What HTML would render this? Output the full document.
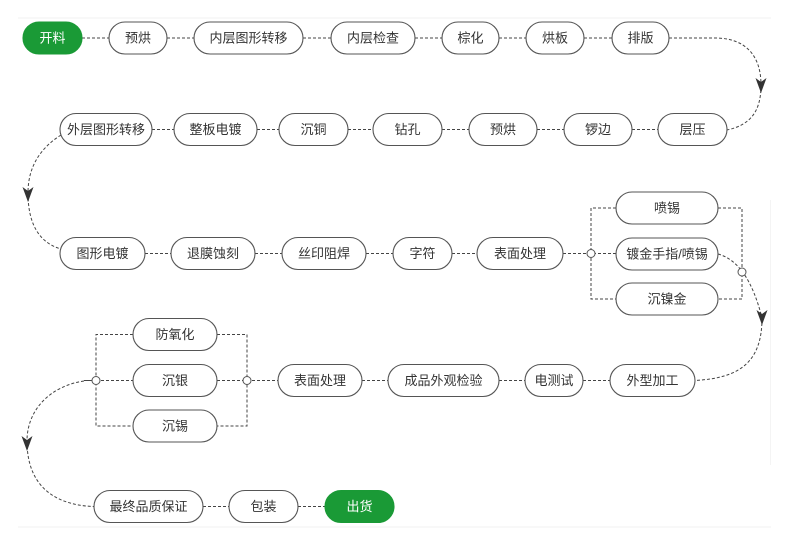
<!DOCTYPE html>
<html>
<head>
<meta charset="utf-8">
<style>
  html,body{margin:0;padding:0;background:#fff;}
  svg{display:block;}
  text{font-family:"Liberation Sans","Noto Sans CJK SC",sans-serif;font-size:13px;fill:#333;text-anchor:middle;dominant-baseline:central;}
  .n{fill:#fff;stroke:#555;stroke-width:1.1;}
  .g{fill:#1a9a36;stroke:#1a9a36;}
  .gt{fill:#fff;}
  .d{fill:none;stroke:#444;stroke-width:1;stroke-dasharray:3,2;}
  .c{fill:#fff;stroke:#555;stroke-width:1;}
</style>
</head>
<body>
<svg width="790" height="546" viewBox="0 0 790 546" xmlns="http://www.w3.org/2000/svg">
  <!-- faint frame -->
  <line x1="18" y1="18" x2="771" y2="18" stroke="#f0f0f0" stroke-width="1"/>
  <line x1="18" y1="527" x2="771" y2="527" stroke="#f0f0f0" stroke-width="1"/>
  <line x1="770.5" y1="200" x2="770.5" y2="465" stroke="#f4f4f4" stroke-width="1"/>

  <!-- connectors row 1 -->
  <line class="d" x1="82" y1="38" x2="109" y2="38"/>
  <line class="d" x1="167" y1="38" x2="194" y2="38"/>
  <line class="d" x1="303" y1="38" x2="331" y2="38"/>
  <line class="d" x1="415" y1="38" x2="442" y2="38"/>
  <line class="d" x1="499" y1="38" x2="526" y2="38"/>
  <line class="d" x1="584" y1="38" x2="612" y2="38"/>
  <path class="d" d="M669,38 L715,38 C745,38 761,55 761,85"/>
  <path class="d" d="M761,85 C761,112 750,125 727,130"/>

  <!-- connectors row 2 -->
  <line class="d" x1="152" y1="129.5" x2="174" y2="129.5"/>
  <line class="d" x1="257" y1="129.5" x2="279" y2="129.5"/>
  <line class="d" x1="348" y1="129.5" x2="373" y2="129.5"/>
  <line class="d" x1="442" y1="129.5" x2="469" y2="129.5"/>
  <line class="d" x1="537" y1="129.5" x2="564" y2="129.5"/>
  <line class="d" x1="632" y1="129.5" x2="658" y2="129.5"/>
  <path class="d" d="M61,135 C42,147 28,165 28,193"/>
  <path class="d" d="M28,193 C28,225 40,243 61,249"/>

  <!-- connectors row 3 -->
  <line class="d" x1="145" y1="253.5" x2="171" y2="253.5"/>
  <line class="d" x1="255" y1="253.5" x2="282" y2="253.5"/>
  <line class="d" x1="366" y1="253.5" x2="393" y2="253.5"/>
  <line class="d" x1="452" y1="253.5" x2="477" y2="253.5"/>
  <line class="d" x1="563" y1="253.5" x2="616" y2="253.5"/>
  <path class="d" d="M616,208 L591,208 L591,299 L616,299"/>
  <path class="d" d="M718,208 L742,208 L742,299 L718,299"/>
  <path class="d" d="M718,254 Q748,262 762,318"/>
  <path class="d" d="M762,318 C762,362 740,378 695,380.5"/>

  <!-- connectors row 4 -->
  <line class="d" x1="247" y1="380.5" x2="278" y2="380.5"/>
  <line class="d" x1="362" y1="380.5" x2="388" y2="380.5"/>
  <line class="d" x1="499" y1="380.5" x2="525" y2="380.5"/>
  <line class="d" x1="583" y1="380.5" x2="610" y2="380.5"/>
  <path class="d" d="M133,334.5 L96,334.5 L96,426 L133,426"/>
  <line class="d" x1="96" y1="380.5" x2="133" y2="380.5"/>
  <path class="d" d="M217,334.5 L247,334.5 L247,426 L217,426"/>
  <line class="d" x1="217" y1="380.5" x2="247" y2="380.5"/>
  <line x1="84" y1="380.5" x2="96" y2="380.5" stroke="#444" stroke-width="1"/>
  <path class="d" d="M84,381 C50,386 27,410 27,441"/>
  <path class="d" d="M27,441 C27,482 50,505 94,506.5"/>

  <!-- connectors row 5 -->
  <line class="d" x1="203" y1="506.5" x2="229" y2="506.5"/>
  <line class="d" x1="298" y1="506.5" x2="325" y2="506.5"/>

  <!-- arrowheads -->
  <polygon points="755.5,78 761,82 766.5,78 761,93" fill="#333"/>
  <polygon points="22.5,187 28,191 33.5,187 28,202" fill="#333"/>
  <polygon points="756.5,310 762,314 767.5,310 762,325" fill="#333"/>
  <polygon points="21.5,436 27,440 32.5,436 27,451" fill="#333"/>

  <!-- junction circles -->
  <circle class="c" cx="591" cy="253.5" r="4"/>
  <circle class="c" cx="742" cy="272" r="4"/>
  <circle class="c" cx="96" cy="380.5" r="4"/>
  <circle class="c" cx="247" cy="380.5" r="4"/>

  <!-- Row 1 -->
  <rect class="n g" x="23" y="22" width="59" height="32" rx="16"/><text class="gt" x="52.5" y="38">开料</text>
  <rect class="n" x="109" y="22" width="58" height="32" rx="16"/><text x="138" y="38">预烘</text>
  <rect class="n" x="194" y="22" width="109" height="32" rx="16"/><text x="248.5" y="38">内层图形转移</text>
  <rect class="n" x="331" y="22" width="84" height="32" rx="16"/><text x="373" y="38">内层检查</text>
  <rect class="n" x="442" y="22" width="57" height="32" rx="16"/><text x="470.5" y="38">棕化</text>
  <rect class="n" x="526" y="22" width="58" height="32" rx="16"/><text x="555" y="38">烘板</text>
  <rect class="n" x="612" y="22" width="57" height="32" rx="16"/><text x="640.5" y="38">排版</text>

  <!-- Row 2 -->
  <rect class="n" x="60" y="113.5" width="92" height="32" rx="16"/><text x="106" y="129.5">外层图形转移</text>
  <rect class="n" x="174" y="113.5" width="83" height="32" rx="16"/><text x="215.5" y="129.5">整板电镀</text>
  <rect class="n" x="279" y="113.5" width="69" height="32" rx="16"/><text x="313.5" y="129.5">沉铜</text>
  <rect class="n" x="373" y="113.5" width="69" height="32" rx="16"/><text x="407.5" y="129.5">钻孔</text>
  <rect class="n" x="469" y="113.5" width="68" height="32" rx="16"/><text x="503" y="129.5">预烘</text>
  <rect class="n" x="564" y="113.5" width="68" height="32" rx="16"/><text x="598" y="129.5">锣边</text>
  <rect class="n" x="658" y="113.5" width="69" height="32" rx="16"/><text x="692.5" y="129.5">层压</text>

  <!-- Row 3 -->
  <rect class="n" x="60" y="237.5" width="85" height="32" rx="16"/><text x="102.5" y="253.5">图形电镀</text>
  <rect class="n" x="171" y="237.5" width="84" height="32" rx="16"/><text x="213" y="253.5">退膜蚀刻</text>
  <rect class="n" x="282" y="237.5" width="84" height="32" rx="16"/><text x="324" y="253.5">丝印阻焊</text>
  <rect class="n" x="393" y="237.5" width="59" height="32" rx="16"/><text x="422.5" y="253.5">字符</text>
  <rect class="n" x="477" y="237.5" width="86" height="32" rx="16"/><text x="520" y="253.5">表面处理</text>
  <rect class="n" x="616" y="192" width="102" height="32" rx="16"/><text x="667" y="208">喷锡</text>
  <rect class="n" x="616" y="238" width="102" height="32" rx="16"/><text x="667" y="254">镀金手指/喷锡</text>
  <rect class="n" x="616" y="283" width="102" height="32" rx="16"/><text x="667" y="299">沉镍金</text>

  <!-- Row 4 -->
  <rect class="n" x="133" y="318.5" width="84" height="32" rx="16"/><text x="175" y="334.5">防氧化</text>
  <rect class="n" x="133" y="364.5" width="84" height="32" rx="16"/><text x="175" y="380.5">沉银</text>
  <rect class="n" x="133" y="410" width="84" height="32" rx="16"/><text x="175" y="426">沉锡</text>
  <rect class="n" x="278" y="364.5" width="84" height="32" rx="16"/><text x="320" y="380.5">表面处理</text>
  <rect class="n" x="388" y="364.5" width="111" height="32" rx="16"/><text x="443.5" y="380.5">成品外观检验</text>
  <rect class="n" x="525" y="364.5" width="58" height="32" rx="16"/><text x="554" y="380.5">电测试</text>
  <rect class="n" x="610" y="364.5" width="85" height="32" rx="16"/><text x="652.5" y="380.5">外型加工</text>

  <!-- Row 5 -->
  <rect class="n" x="94" y="490.5" width="109" height="32" rx="16"/><text x="148.5" y="506.5">最终品质保证</text>
  <rect class="n" x="229" y="490.5" width="69" height="32" rx="16"/><text x="263.5" y="506.5">包装</text>
  <rect class="n g" x="325" y="490.5" width="69" height="32" rx="16"/><text class="gt" x="359.5" y="506.5">出货</text>
</svg>
</body>
</html>
